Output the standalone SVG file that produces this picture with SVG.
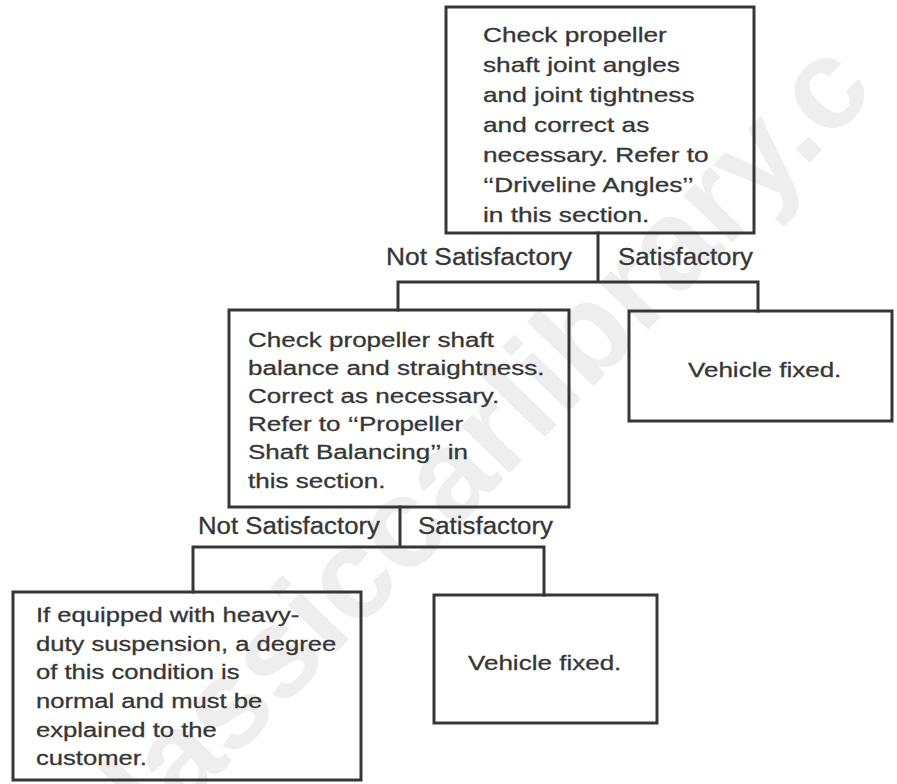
<svg xmlns="http://www.w3.org/2000/svg" width="897" height="784" viewBox="0 0 897 784">
  <style>
    .box { fill: none; stroke: #363636; stroke-width: 3; }
    .wire { fill: none; stroke: #363636; stroke-width: 3; stroke-linecap: square; }
    .t { font-family: "Liberation Sans", Arial, Helvetica, sans-serif; font-size: 21px; fill: #363636; stroke: #363636; stroke-width: 0.3; }
    .lbl { font-family: "Liberation Sans", Arial, Helvetica, sans-serif; font-size: 23px; fill: #363636; stroke: #363636; stroke-width: 0.3; }
    .mark { font-family: "Liberation Sans", Arial, sans-serif; font-weight: bold; font-size: 128px; fill: #eeeeee; }
  </style>
  <rect width="897" height="784" fill="#ffffff"/>

  <!-- faint background watermark -->
  <text class="mark" transform="translate(108,889) rotate(-46)">classiccarlibrary.c</text>

  <!-- connectors -->
  <g id="connectors">
    <path class="wire" d="M598,233 V282 M398,282 H758 M398,282 V310 M758,282 V311"/>
    <path class="wire" d="M400,507 V547 M193,547 H544 M193,547 V592 M544,547 V595"/>
    <text class="lbl" x="386" y="265" textLength="186" lengthAdjust="spacingAndGlyphs">Not Satisfactory</text>
    <text class="lbl" x="618" y="265" textLength="135" lengthAdjust="spacingAndGlyphs">Satisfactory</text>
    <text class="lbl" x="198" y="534" textLength="182" lengthAdjust="spacingAndGlyphs">Not Satisfactory</text>
    <text class="lbl" x="418" y="534" textLength="135" lengthAdjust="spacingAndGlyphs">Satisfactory</text>
  </g>

  <!-- step 1: joint angles -->
  <g id="check-joints">
    <rect class="box" x="446" y="7" width="308" height="226"/>
    <g transform="translate(483,0) scale(1.25,1)">
      <text class="t" x="0" y="42">Check propeller</text>
      <text class="t" x="0" y="72">shaft joint angles</text>
      <text class="t" x="0" y="102">and joint tightness</text>
      <text class="t" x="0" y="132">and correct as</text>
      <text class="t" x="0" y="162">necessary. Refer to</text>
      <text class="t" x="0" y="192">‘‘Driveline Angles’’</text>
      <text class="t" x="0" y="222">in this section.</text>
    </g>
  </g>

  <!-- step 1 satisfactory -->
  <g id="fixed-1">
    <rect class="box" x="629" y="311" width="263" height="110"/>
    <g transform="translate(688,0) scale(1.24,1)">
      <text class="t" x="0" y="377">Vehicle fixed.</text>
    </g>
  </g>

  <!-- step 2: balance -->
  <g id="check-balance">
    <rect class="box" x="229" y="310" width="340" height="197"/>
    <g transform="translate(248,0) scale(1.24,1)">
      <text class="t" x="0" y="347">Check propeller shaft</text>
      <text class="t" x="0" y="375">balance and straightness.</text>
      <text class="t" x="0" y="403">Correct as necessary.</text>
      <text class="t" x="0" y="431">Refer to ‘‘Propeller</text>
      <text class="t" x="0" y="459">Shaft Balancing’’ in</text>
      <text class="t" x="0" y="488">this section.</text>
    </g>
  </g>

  <!-- step 2 not satisfactory -->
  <g id="heavy-duty">
    <rect class="box" x="13" y="592" width="348" height="188"/>
    <g transform="translate(36,0) scale(1.22,1)">
      <text class="t" x="0" y="622">If equipped with heavy-</text>
      <text class="t" x="0" y="650.7">duty suspension, a degree</text>
      <text class="t" x="0" y="679.4">of this condition is</text>
      <text class="t" x="0" y="708">normal and must be</text>
      <text class="t" x="0" y="736.7">explained to the</text>
      <text class="t" x="0" y="765.4">customer.</text>
    </g>
  </g>

  <!-- step 2 satisfactory -->
  <g id="fixed-2">
    <rect class="box" x="434" y="595" width="223" height="128"/>
    <g transform="translate(468,0) scale(1.24,1)">
      <text class="t" x="0" y="670">Vehicle fixed.</text>
    </g>
  </g>
</svg>
